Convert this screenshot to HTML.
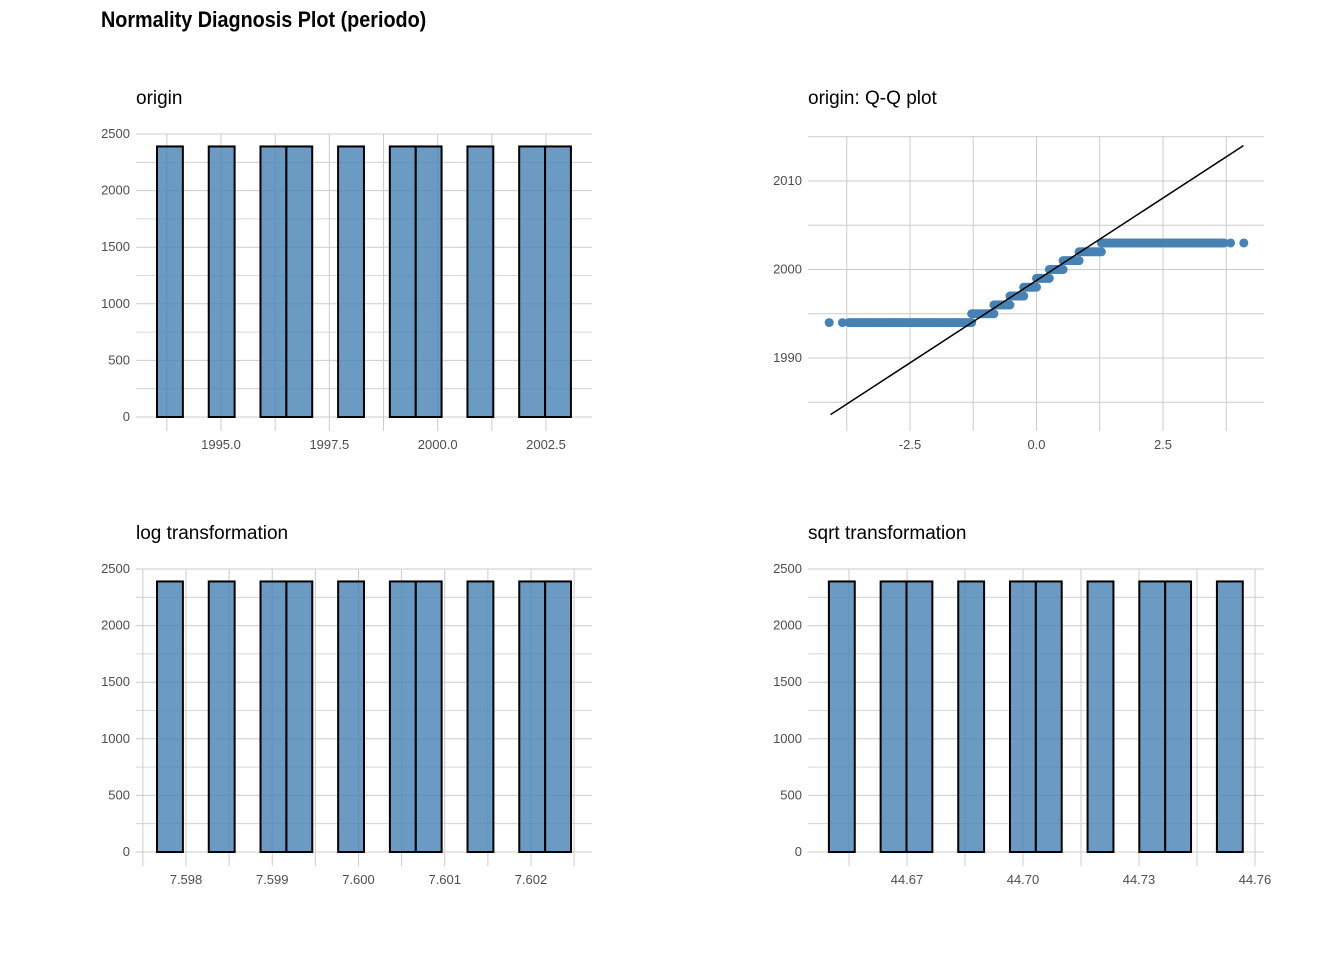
<!DOCTYPE html>
<html><head><meta charset="utf-8"><style>
body{margin:0;background:#fff;}
svg{display:block;font-family:"Liberation Sans",sans-serif;}
</style></head><body>
<svg id="c" width="1344" height="960" viewBox="0 0 1344 960">
<text x="101" y="27" font-size="22" font-weight="bold" fill="#000" transform="translate(101,0) scale(0.9,1) translate(-101,0)">Normality Diagnosis Plot (periodo)</text>
</svg>
<script>
// ---- data ----
const originCounts = [2390,0,2390,0,2390,2390,0,2390,0,2390,2390,0,2390,0,2390,2390];
const originBinStart = 1993.523, originBinWidth = 0.597;
const originXTicks = [1995.0,1997.5,2000.0,2002.5];
const logCounts = [2390,0,2390,0,2390,2390,0,2390,0,2390,2390,0,2390,0,2390,2390];
const logBinStart = 7.597664, logBinWidth = 0.0003;
const logXTicks = [7.598,7.599,7.600,7.601,7.602];
const sqrtCounts = [2390,0,2390,2390,0,2390,0,2390,2390,0,2390,0,2390,2390,0,2390];
const sqrtBinStart = 44.6498, sqrtBinWidth = 0.00669;
const sqrtXTicks = [44.67,44.70,44.73,44.76];
const yTicks = [0,500,1000,1500,2000,2500];
const qqYears = [1994,1995,1996,1997,1998,1999,2000,2001,2002,2003];
const qqYearCounts = [2390,2390,2390,2390,2390,2390,2390,2390,2390,2390];
const qqXTicks = [-2.5,0.0,2.5];
const qqYTicks = [1990,2000,2010];
const qqLineEnds = [[-4.07,1983.6],[4.09,2014.0]];

const svg = document.getElementById('c');
const NS = 'http://www.w3.org/2000/svg';
function mk(tag, attrs, parent){const e=document.createElementNS(NS,tag);for(const k in attrs)e.setAttribute(k,attrs[k]);(parent||svg).appendChild(e);return e;}
function lin(d0,d1,r0,r1){return v=>r0+(v-d0)*(r1-r0)/(d1-d0);}
const GRID='#cccccc', TICK='#4d4d4d';

function title(x,y,t,name){const e=mk('text',{x:x,y:y,'font-size':19,fill:'#000'});e.textContent=t;

}

function ytxt(g,x,y,t){const e=mk('text',{x:x,y:y+4,'font-size':13,fill:TICK,'text-anchor':'end'},g);e.textContent=t;

}
function xtxt(g,x,y,t){const e=mk('text',{x:x,y:y,'font-size':13,fill:TICK,'text-anchor':'middle'},g);e.textContent=t;

}

function hist(o){
  const g=mk('g',{});
  
  
  const X=lin(o.xd[0],o.xd[1],o.xr[0],o.xr[1]);
  const Y=lin(0,2500,o.y0,o.y0-283);
  for(let i=0;i<yTicks.length;i++){
    const v=yTicks[i];
    mk('line',{x1:o.px0,x2:o.px1,y1:Y(v),y2:Y(v),stroke:GRID,'stroke-width':1},g);
    if(i<yTicks.length-1) mk('line',{x1:o.px0,x2:o.px1,y1:Y(v+250),y2:Y(v+250),stroke:GRID,'stroke-width':0.8},g);
    ytxt(g,o.px0-6,Y(v),String(v));
  }
  const step=o.ticks[1]-o.ticks[0];
  const seen=new Set();
  for(let k=-3;k<=2*o.ticks.length+1;k++){
    const v=o.ticks[0]+k*step/2;const x=X(v);const key=Math.round(x);
    if(x>=o.px0&&x<=o.px1&&!seen.has(key)){seen.add(key);mk('line',{x1:x,x2:x,y1:o.y0-283,y2:o.y0+14,stroke:GRID,'stroke-width':1},g);}
  }
  o.ticks.forEach(v=>xtxt(g,X(v),o.y0+32,v.toFixed(o.dec)));
  const cnt=o.counts;
  for(let i=0;i<cnt.length;i++){
    const a=X(o.bs+i*o.bw), b=X(o.bs+(i+1)*o.bw);
    const r=mk('rect',{x:a,y:Y(cnt[i]),width:b-a,height:Y(0)-Y(cnt[i]),fill:'rgba(70,130,180,0.8)',stroke:'#000','stroke-width':2},g);
    
    
  }
}

title(136,104,'origin','origin-panel-title');
hist({name:'origin-histogram',xd:[1995,2002.5],xr:[221,546],y0:417,px0:136,px1:592,ticks:originXTicks,dec:1,counts:originCounts,bs:originBinStart,bw:originBinWidth});
title(136,539,'log transformation','log-panel-title');
hist({name:'log-histogram',xd:[7.598,7.602],xr:[186,531],y0:852,px0:136,px1:592,ticks:logXTicks,dec:3,counts:logCounts,bs:logBinStart,bw:logBinWidth});
title(808,539,'sqrt transformation','sqrt-panel-title');
hist({name:'sqrt-histogram',xd:[44.67,44.76],xr:[907,1255],y0:852,px0:808,px1:1264,ticks:sqrtXTicks,dec:2,counts:sqrtCounts,bs:sqrtBinStart,bw:sqrtBinWidth});

title(808,104,'origin: Q-Q plot','qq-panel-title');
(function(){
  const g=mk('g',{});
  
  
  const X=lin(-2.5,2.5,910,1163), Y=lin(1990,2010,358,181);
  const px0=808,px1=1264,py0=136,py1=431;
  [1985,1990,1995,2000,2005,2010,2015].forEach(v=>mk('line',{x1:px0,x2:px1,y1:Y(v),y2:Y(v),stroke:GRID,'stroke-width':1},g));
  [-3.75,-2.5,-1.25,0,1.25,2.5,3.75].forEach(v=>mk('line',{x1:X(v),x2:X(v),y1:py0,y2:py1,stroke:GRID,'stroke-width':1},g));
  qqYTicks.forEach(v=>ytxt(g,px0-6,Y(v),String(v)));
  qqXTicks.forEach(v=>xtxt(g,X(v),449,v.toFixed(1)));
  function qn(p){const a=[-39.6968302866538,220.946098424521,-275.928510446969,138.357751867269,-30.6647980661472,2.50662827745924],
  b=[-54.4760987982241,161.585836858041,-155.698979859887,66.8013118877197,-13.2806815528857],
  c=[-0.00778489400243029,-0.322396458041136,-2.40075827716184,-2.54973253934373,4.37466414146497,2.93816398269878],
  d=[0.00778469570904146,0.32246712907004,2.445134137143,3.75440866190742];
  const pl=0.02425;let q,r;
  if(p<pl){q=Math.sqrt(-2*Math.log(p));return (((((c[0]*q+c[1])*q+c[2])*q+c[3])*q+c[4])*q+c[5])/((((d[0]*q+d[1])*q+d[2])*q+d[3])*q+1);}
  if(p>1-pl){q=Math.sqrt(-2*Math.log(1-p));return -(((((c[0]*q+c[1])*q+c[2])*q+c[3])*q+c[4])*q+c[5])/((((d[0]*q+d[1])*q+d[2])*q+d[3])*q+1);}
  q=p-0.5;r=q*q;return (((((a[0]*r+a[1])*r+a[2])*r+a[3])*r+a[4])*r+a[5])*q/(((((b[0]*r+b[1])*r+b[2])*r+b[3])*r+b[4])*r+1);}
  const N=qqYearCounts.reduce((s,v)=>s+v,0);
  let idx=0;
  for(let k=0;k<qqYears.length;k++){
    const n=qqYearCounts[k];
    const t0=qn((idx+0.5)/N), t1=qn((idx+n-0.5)/N);
    const ts=[];
    // dense except the very extreme isolated points
    const inner0 = k===0 ? qn((idx+2.5)/N) : t0;
    const inner1 = k===qqYears.length-1 ? qn((idx+n-2.5)/N) : t1;
    if(k===0){ts.push(t0,qn((idx+1.5)/N));}
    if(k===qqYears.length-1){ts.push(t1,qn((idx+n-1.5)/N));}
    for(let t=inner0;t<inner1;t+=0.03) ts.push(t);
    ts.push(inner1);
    ts.forEach(t=>{
      const c=mk('circle',{cx:X(t),cy:Y(qqYears[k]),r:4.5,fill:'#4682b4'},g);
      
      
    });
    idx+=n;
  }
  const l=mk('line',{x1:X(qqLineEnds[0][0]),y1:Y(qqLineEnds[0][1]),x2:X(qqLineEnds[1][0]),y2:Y(qqLineEnds[1][1]),stroke:'#000','stroke-width':1.5},g);
  
  
})();
</script>
</body></html>
